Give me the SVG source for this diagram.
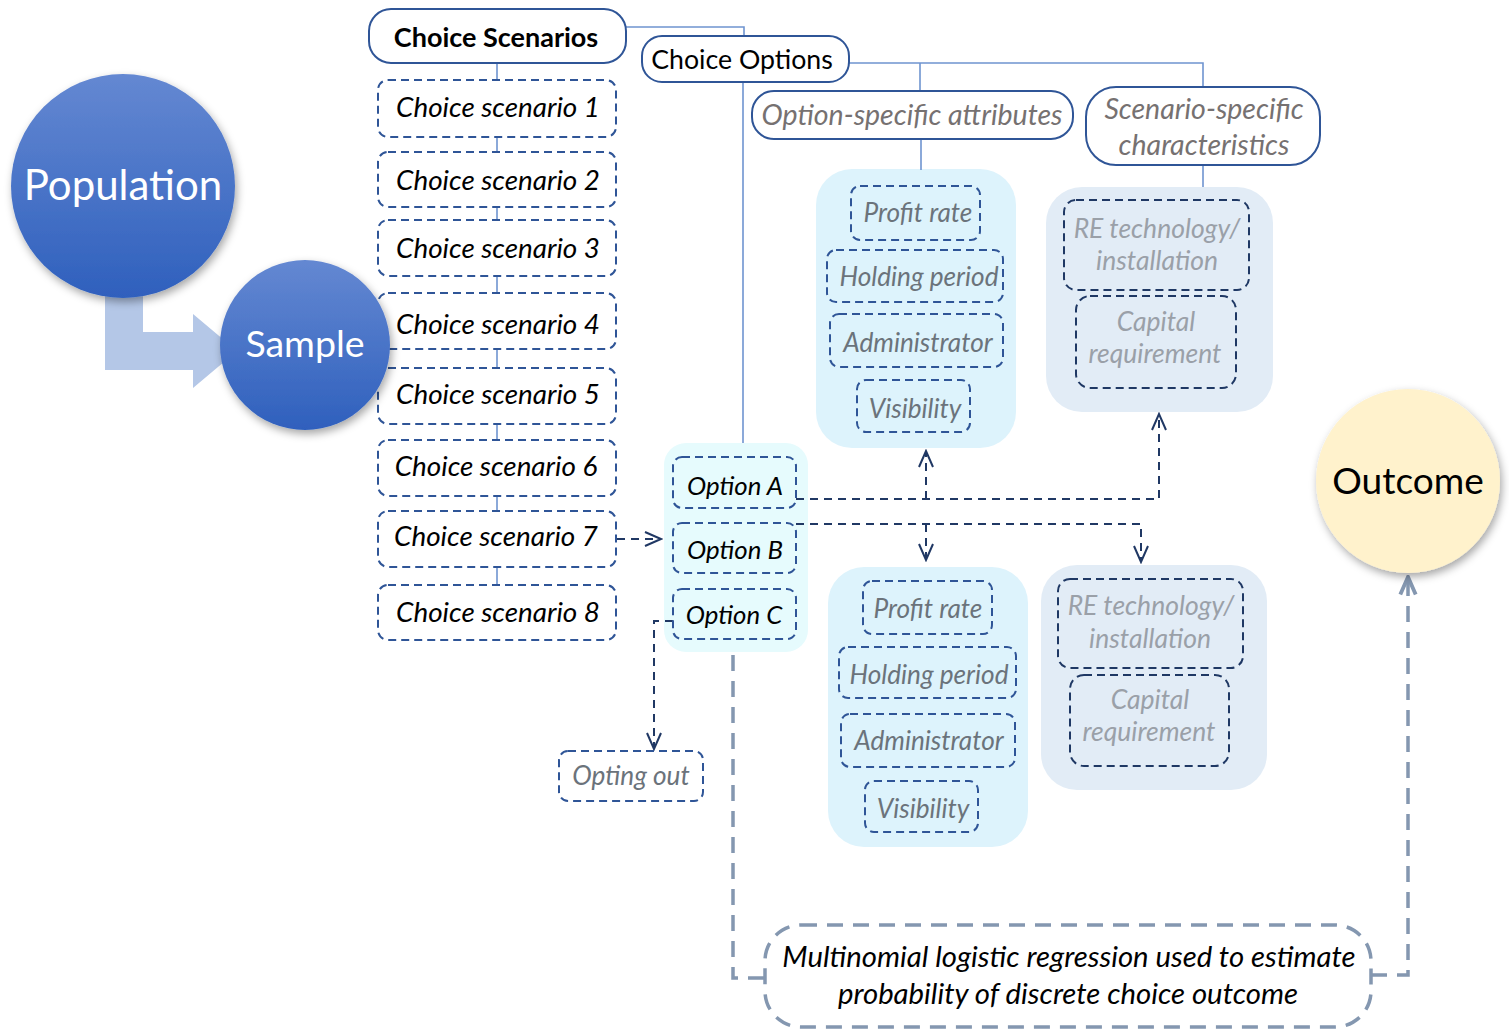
<svg xmlns="http://www.w3.org/2000/svg" width="1509" height="1029" viewBox="0 0 1509 1029">
<defs>
<style>
text{font-family:Lato,"Open Sans","Liberation Sans",sans-serif;}
.hdr{fill:#fff;stroke:#2f5597;stroke-width:2;}
.dbox{fill:none;stroke:#2f5597;stroke-width:2;stroke-dasharray:8 5;}
.dbox2{fill:none;stroke:#1f3864;stroke-width:2;stroke-dasharray:8 5;}
.tree{fill:none;stroke:#6f94d0;stroke-width:1.6;}
.dc{fill:none;stroke:#203864;stroke-width:2;stroke-dasharray:8 6;}
.gc{fill:none;stroke:#8497b0;stroke-width:3.5;stroke-dasharray:16 10;}
.it{font-style:italic;font-size:27.8px;fill:#000;text-anchor:middle;}
.io{font-style:italic;font-size:25.8px;fill:#000;text-anchor:middle;}
.ig{font-style:italic;font-size:26.2px;fill:#6b737b;text-anchor:middle;}
.il{font-style:italic;font-size:26.5px;fill:#9aa0a8;text-anchor:middle;}
.hg{font-style:italic;font-size:28.5px;fill:#767171;text-anchor:middle;}
.c1{fill:#ddf3fc;}
.c2{fill:#e2ecf6;}
</style>
<marker id="ah" viewBox="0 0 20 20" refX="18" refY="10" markerWidth="20" markerHeight="20" markerUnits="userSpaceOnUse" orient="auto">
<path d="M2,3 L18,10 L2,17" fill="none" stroke="#203864" stroke-width="2"/>
</marker>
<marker id="ahg" viewBox="0 0 20 20" refX="18" refY="10" markerWidth="22" markerHeight="22" markerUnits="userSpaceOnUse" orient="auto">
<path d="M2,3 L18,10 L2,17" fill="none" stroke="#8497b0" stroke-width="3.5"/>
</marker>
<linearGradient id="bl" x1="0" y1="0" x2="0" y2="1">
<stop offset="0" stop-color="#6488d2"/>
<stop offset="1" stop-color="#2f60bd"/>
</linearGradient>
<filter id="sh" x="-20%" y="-20%" width="150%" height="150%">
<feDropShadow dx="2" dy="4" stdDeviation="4" flood-color="#000" flood-opacity="0.35"/>
</filter>
</defs>
<rect width="1509" height="1029" fill="#fff"/>

<!-- containers -->
<rect class="c1" x="816" y="169" width="200" height="279" rx="36"/>
<rect class="c2" x="1046" y="187" width="227" height="225" rx="36"/>
<rect fill="#e6fbfd" x="664" y="443" width="144" height="209" rx="22"/>
<rect class="c1" x="828" y="567" width="200" height="280" rx="36"/>
<rect class="c2" x="1041" y="565" width="226" height="225" rx="36"/>

<!-- connectors -->
<g id="connectors">
<path class="tree" d="M626,27 H744 V36"/>
<path class="tree" d="M849,63 H1203 V87 M920,63 V91"/>
<path class="tree" d="M743,82 V443"/>
<path class="tree" d="M921,139 V170 M1203,165 V187"/>
<path class="tree" d="M497,63 V80 M497,137 V152 M497,207 V220 M497,276 V293 M497,349 V368 M497,424 V440 M497,496 V511 M497,567 V585"/>
<path class="dc" d="M617,539 H661" marker-end="url(#ah)"/>
<path class="dc" d="M796,499 H1159 V414" marker-end="url(#ah)"/>
<path class="dc" d="M926,499 V451" marker-end="url(#ah)"/>
<path class="dc" d="M796,524 H1141 V562" marker-end="url(#ah)"/>
<path class="dc" d="M926,524 V560" marker-end="url(#ah)"/>
<path class="dc" d="M673,621 H654 V749" marker-end="url(#ah)"/>
<path class="gc" d="M733,655 V978 H765"/>
<path class="gc" d="M1371,975 H1408 V577" marker-end="url(#ahg)"/>
<path d="M105,290 V370 H193 V388 L237,351 L193,314 V332 H143 V290 Z" fill="#b4c7e7"/>
</g>

<g id="choice-scenarios">
<rect class="hdr" x="369" y="9" width="257" height="54" rx="22"/>
<text x="496" y="47" font-size="27" font-weight="bold" text-anchor="middle" fill="#000">Choice Scenarios</text>
</g>
<g id="choice-options">
<rect class="hdr" x="642" y="36" width="207" height="46" rx="20"/>
<text x="742" y="69" font-size="26.7" text-anchor="middle" fill="#000">Choice Options</text>
</g>
<g id="option-specific">
<rect class="hdr" x="752" y="91" width="321" height="48" rx="22"/>
<text class="hg" x="912" y="125">Option-specific attributes</text>
</g>
<g id="scenario-specific">
<rect class="hdr" x="1086" y="87" width="234" height="78" rx="30"/>
<text class="hg" x="1204" y="119">Scenario-specific</text>
<text class="hg" x="1204" y="155">characteristics</text>
</g>

<g id="cs1"><rect class="dbox" x="378" y="80" width="238" height="57" rx="10"/><text class="it" x="498" y="117">Choice scenario 1</text></g>
<g id="cs2"><rect class="dbox" x="378" y="152" width="238" height="55" rx="10"/><text class="it" x="498" y="190">Choice scenario 2</text></g>
<g id="cs3"><rect class="dbox" x="378" y="220" width="238" height="56" rx="10"/><text class="it" x="498" y="258">Choice scenario 3</text></g>
<g id="cs4"><rect class="dbox" x="378" y="293" width="238" height="56" rx="10"/><text class="it" x="498" y="334">Choice scenario 4</text></g>
<g id="cs5"><rect class="dbox" x="378" y="368" width="238" height="56" rx="10"/><text class="it" x="498" y="404">Choice scenario 5</text></g>
<g id="cs6"><rect class="dbox" x="378" y="440" width="238" height="56" rx="10"/><text class="it" x="496" y="476">Choice scenario 6</text></g>
<g id="cs7"><rect class="dbox" x="378" y="511" width="238" height="56" rx="10"/><text class="it" x="496" y="546">Choice scenario 7</text></g>
<g id="cs8"><rect class="dbox" x="378" y="585" width="238" height="55" rx="10"/><text class="it" x="498" y="622">Choice scenario 8</text></g>

<g id="option-a"><rect class="dbox" x="673" y="457" width="123" height="51" rx="9"/><text class="io" x="735" y="495">Option A</text></g>
<g id="option-b"><rect class="dbox" x="673" y="523" width="123" height="50" rx="9"/><text class="io" x="735" y="559">Option B</text></g>
<g id="option-c"><rect class="dbox" x="673" y="589" width="123" height="50" rx="9"/><text class="io" x="734" y="624">Option C</text></g>
<g id="opting-out"><rect class="dbox" x="559" y="751" width="144" height="50" rx="9"/><text class="ig" x="631" y="785" fill="#7a7a7a">Opting out</text></g>

<g id="profit-1"><rect class="dbox" x="851" y="186" width="129" height="54" rx="9"/><text class="ig" x="918" y="222">Profit rate</text></g>
<g id="holding-1"><rect class="dbox" x="827" y="250" width="176" height="52" rx="9"/><text class="ig" x="919" y="286">Holding period</text></g>
<g id="admin-1"><rect class="dbox" x="830" y="314" width="173" height="53" rx="9"/><text class="ig" x="918" y="352">Administrator</text></g>
<g id="visibility-1"><rect class="dbox" x="857" y="380" width="113" height="52" rx="9"/><text class="ig" x="915" y="418">Visibility</text></g>

<g id="re-1"><rect class="dbox2" x="1064" y="200" width="185" height="90" rx="12"/><text class="il" x="1157" y="238">RE technology/</text><text class="il" x="1157" y="270">installation</text></g>
<g id="capital-1"><rect class="dbox2" x="1076" y="296" width="160" height="92" rx="14"/><text class="il" x="1156" y="331">Capital</text><text class="il" x="1155" y="363">requirement</text></g>

<g id="profit-2"><rect class="dbox" x="863" y="581" width="129" height="53" rx="9"/><text class="ig" x="928" y="618">Profit rate</text></g>
<g id="holding-2"><rect class="dbox" x="839" y="647" width="177" height="51" rx="9"/><text class="ig" x="929" y="684">Holding period</text></g>
<g id="admin-2"><rect class="dbox" x="841" y="714" width="174" height="53" rx="9"/><text class="ig" x="929" y="750">Administrator</text></g>
<g id="visibility-2"><rect class="dbox" x="865" y="781" width="113" height="51" rx="9"/><text class="ig" x="923" y="818">Visibility</text></g>

<g id="re-2"><rect class="dbox2" x="1058" y="579" width="185" height="89" rx="12"/><text class="il" x="1151" y="615">RE technology/</text><text class="il" x="1150" y="648">installation</text></g>
<g id="capital-2"><rect class="dbox2" x="1070" y="675" width="159" height="91" rx="14"/><text class="il" x="1150" y="709">Capital</text><text class="il" x="1149" y="741">requirement</text></g>

<g id="multinomial">
<rect class="gc" x="765" y="925" width="606" height="102" rx="36"/>
<text x="1069" y="967" font-style="italic" font-size="29.3" text-anchor="middle" fill="#000">Multinomial logistic regression used to estimate</text>
<text x="1068" y="1004" font-style="italic" font-size="29.3" text-anchor="middle" fill="#000">probability of discrete choice outcome</text>
</g>

<g id="population">
<circle cx="123" cy="186" r="112" fill="url(#bl)" filter="url(#sh)"/>
<text x="123" y="200" font-size="42" text-anchor="middle" fill="#fff">Population</text>
</g>
<g id="sample">
<circle cx="305" cy="345" r="85" fill="url(#bl)" filter="url(#sh)"/>
<text x="305" y="357" font-size="37.5" text-anchor="middle" fill="#fff">Sample</text>
</g>
<g id="outcome">
<circle cx="1408" cy="481" r="92" fill="#fff2cc" filter="url(#sh)"/>
<text x="1408" y="494" font-size="37" text-anchor="middle" fill="#000">Outcome</text>
</g>
</svg>
